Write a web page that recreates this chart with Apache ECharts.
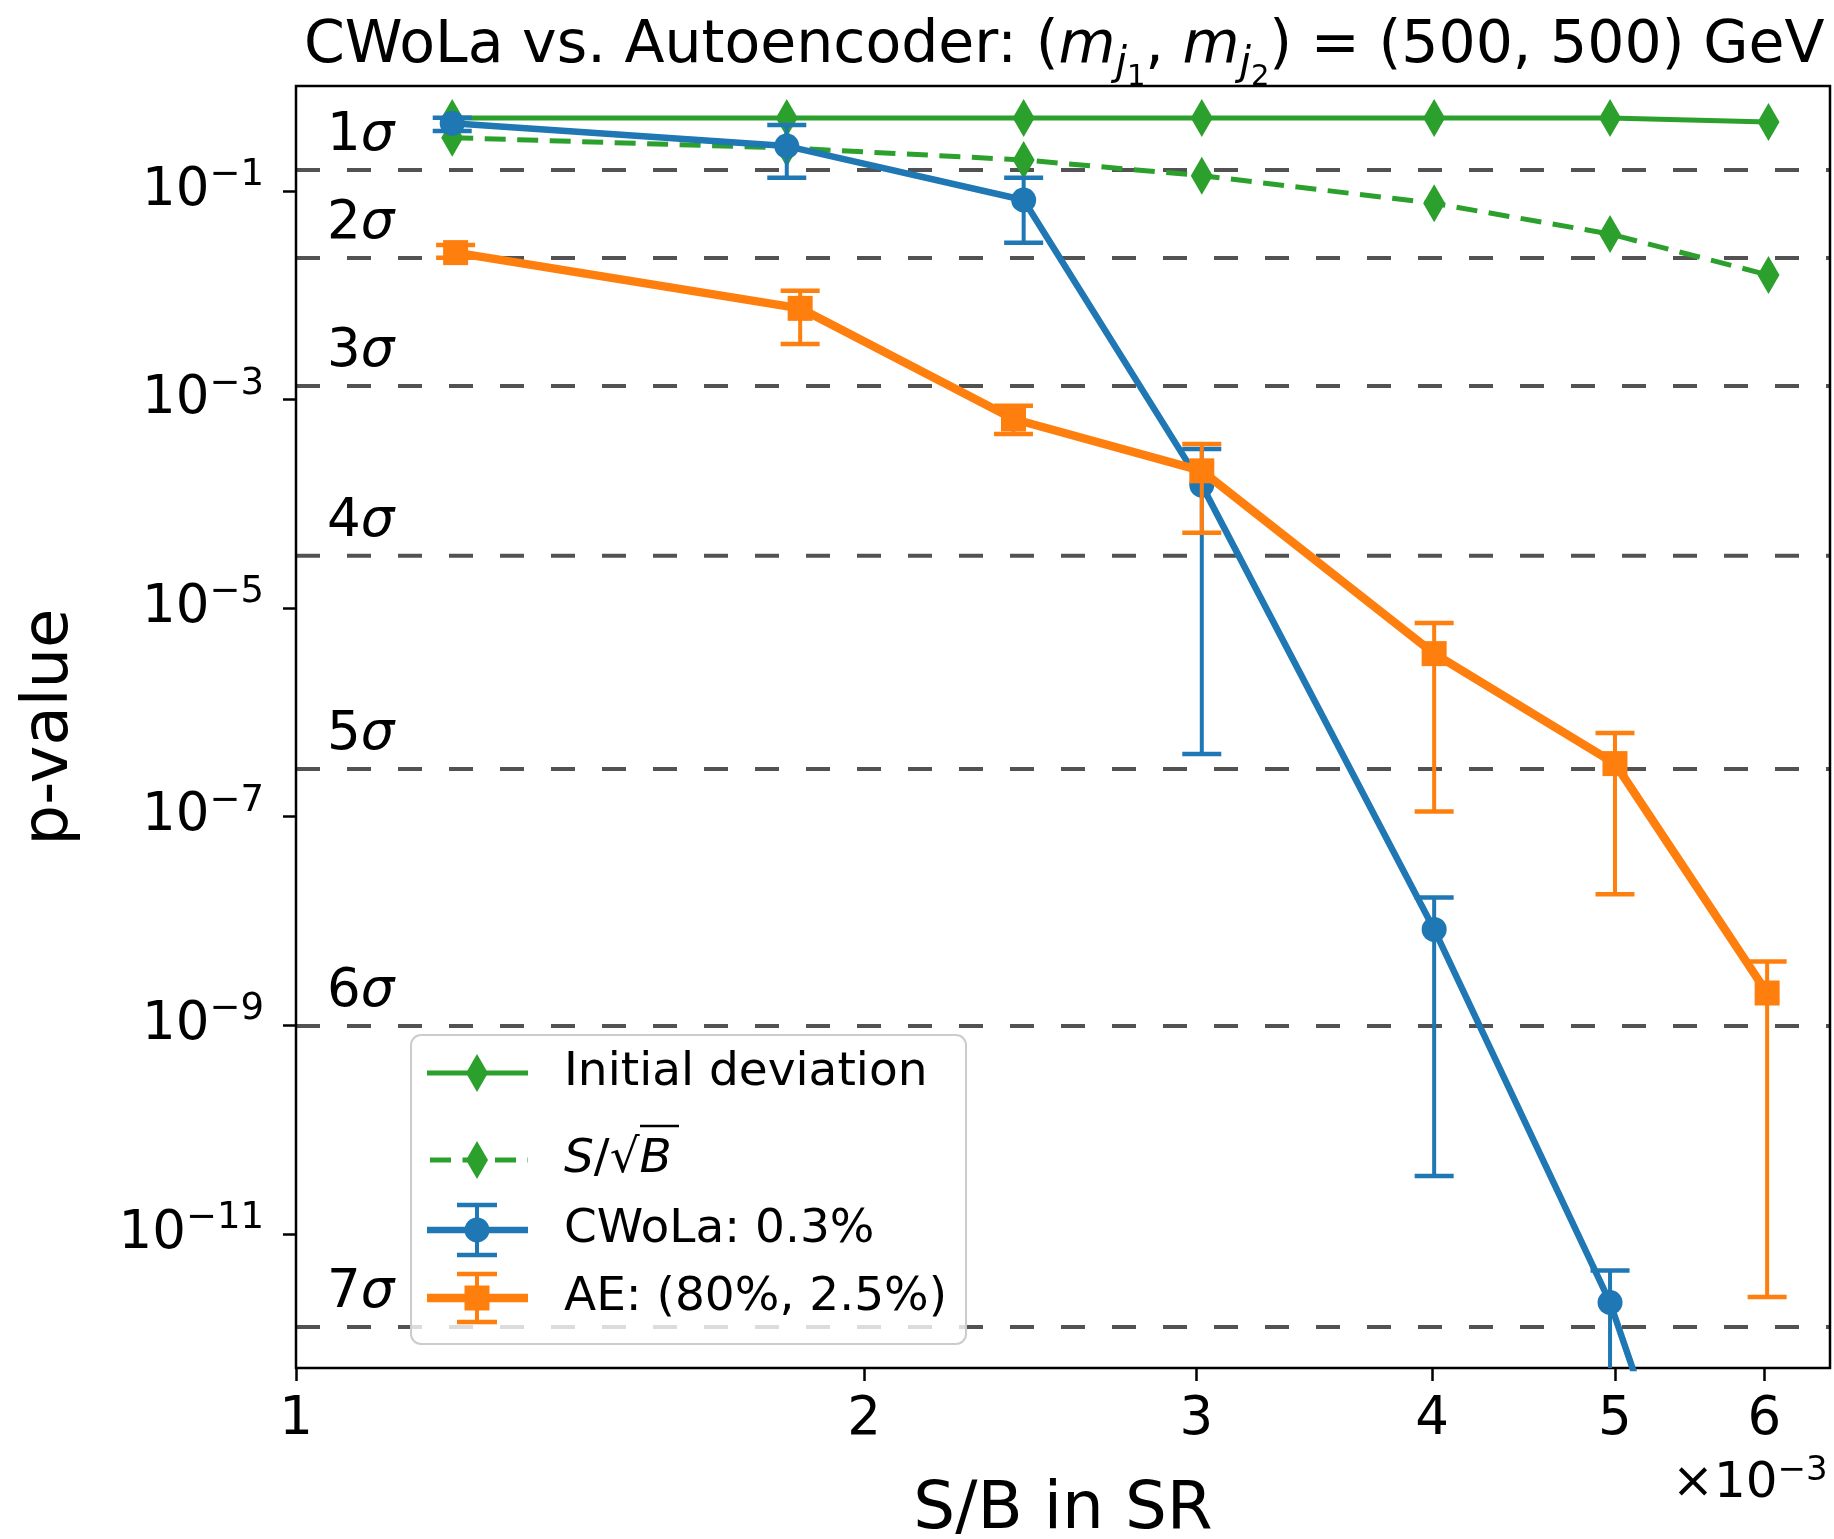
<!DOCTYPE html>
<html>
<head>
<meta charset="utf-8">
<title>CWoLa vs. Autoencoder</title>
<script src="https://cdn.jsdelivr.net/npm/echarts@6/dist/echarts.min.js"></script>
<style>
html, body { margin: 0; padding: 0; background: #ffffff; }
#chart { width: 1834px; height: 1539px; }
</style>
</head>
<body>
<div id="chart"></div>
<script>
// S/B in the signal region, in units of 1e-3
const sbMain = [1.21, 1.82, 2.43, 3.02, 4.01, 4.97, 6.03];   // initial deviation, S/sqrt(B), CWoLa
const sbAE   = [1.215, 1.85, 2.40, 3.02, 4.01, 5.00, 6.02];  // autoencoder

// p-values
const initialDeviation = [0.50, 0.50, 0.50, 0.50, 0.50, 0.50, 0.458];
const sOverSqrtB       = [0.324, 0.258, 0.198, 0.140, 0.076, 0.0386, 0.0156];

const cwolaP    = [0.445, 0.269, 0.0818, 1.51e-4, 8.3e-9, 2.2e-12, 8e-17];
const cwolaHigh = [0.503, 0.428, 0.134, 3.35e-4, 1.68e-8, 4.46e-12, 1e-15];
const cwolaLow  = [0.375, 0.134, 0.0319, 3.99e-7, 3.6e-11, 1e-14, 1e-18];

const aeP    = [0.0256, 7.48e-3, 6.5e-4, 2.07e-4, 3.66e-6, 3.23e-7, 2.04e-9];
const aeHigh = [0.0303, 0.01104, 8.73e-4, 3.74e-4, 7.18e-6, 6.34e-7, 4.1e-9];
const aeLow  = [0.0229, 3.40e-3, 4.67e-4, 5.27e-5, 1.12e-7, 1.80e-8, 2.48e-12];

// one-sided tail probabilities of the n-sigma reference levels
const sigmaLabels = ['1', '2', '3', '4', '5', '6', '7'];
const sigmaP = [1.587e-1, 2.275e-2, 1.350e-3, 3.167e-5, 2.867e-7, 9.866e-10, 1.280e-12];

// axis ticks and ranges
const xTicks = [1, 2, 3, 4, 5, 6];
const yTicks = [1e-1, 1e-3, 1e-5, 1e-7, 1e-9, 1e-11];
const xRange = [1, 6.5];
const yRange = [5.18e-13, 1.013];

const FONT = "'DejaVu Sans', sans-serif";
const GREEN = '#2ca02c', BLUE = '#1f77b4', ORANGE = '#ff7f0e';

function errorBars(name, xs, lows, highs, color, z) {
  return {
    type: 'custom', name: name, z: z, clip: true, silent: true,
    data: xs.map((x, i) => [x, lows[i], highs[i]]),
    encode: { x: 0, y: [1, 2] },
    renderItem: function (params, api) {
      const x = api.value(0);
      const lo = api.coord([x, api.value(1)]);
      const hi = api.coord([x, api.value(2)]);
      const half = 19.5;
      return {
        type: 'group',
        children: [
          { type: 'line', shape: { x1: lo[0], y1: lo[1], x2: hi[0], y2: hi[1] }, style: { stroke: color, lineWidth: 4 } },
          { type: 'line', shape: { x1: lo[0] - half, y1: lo[1], x2: lo[0] + half, y2: lo[1] }, style: { stroke: color, lineWidth: 4.5 } },
          { type: 'line', shape: { x1: hi[0] - half, y1: hi[1], x2: hi[0] + half, y2: hi[1] }, style: { stroke: color, lineWidth: 4.5 } }
        ]
      };
    }
  };
}

const diamond = 'path://M5,0 L10,10 L5,20 L0,10 Z';

const sigmaRich = {
  n: { fontFamily: FONT, fontSize: 53, color: '#000' },
  g: { fontFamily: FONT, fontSize: 53, fontStyle: 'italic', color: '#000' }
};

// legend drawn as a boxed group in the lower left of the plot
const LX = 477, TX = 564;
const legendRows = [1073, 1160, 1230, 1298];
const legendFont = 47;
const legendElems = [
  { type: 'rect', shape: { x: 411, y: 1035, width: 555, height: 309, r: 10 },
    style: { fill: 'rgba(255,255,255,0.8)', stroke: '#cccccc', lineWidth: 2 } },
  // Initial deviation
  { type: 'line', shape: { x1: 427, y1: legendRows[0], x2: 528, y2: legendRows[0] }, style: { stroke: GREEN, lineWidth: 5 } },
  { type: 'polygon', shape: { points: [[LX, legendRows[0] - 19], [LX + 11, legendRows[0]], [LX, legendRows[0] + 19], [LX - 11, legendRows[0]]] }, style: { fill: GREEN } },
  // S/sqrt(B)
  { type: 'line', shape: { x1: 430, y1: legendRows[1], x2: 528, y2: legendRows[1] }, style: { stroke: GREEN, lineWidth: 5, lineDash: [21, 11.5] } },
  { type: 'polygon', shape: { points: [[LX, legendRows[1] - 19], [LX + 11, legendRows[1]], [LX, legendRows[1] + 19], [LX - 11, legendRows[1]]] }, style: { fill: GREEN } },
  // CWoLa
  { type: 'line', shape: { x1: 427, y1: legendRows[2], x2: 528, y2: legendRows[2] }, style: { stroke: BLUE, lineWidth: 6.5 } },
  { type: 'line', shape: { x1: LX, y1: legendRows[2] - 25, x2: LX, y2: legendRows[2] + 25 }, style: { stroke: BLUE, lineWidth: 4 } },
  { type: 'line', shape: { x1: LX - 20, y1: legendRows[2] - 25, x2: LX + 20, y2: legendRows[2] - 25 }, style: { stroke: BLUE, lineWidth: 4.5 } },
  { type: 'line', shape: { x1: LX - 20, y1: legendRows[2] + 25, x2: LX + 20, y2: legendRows[2] + 25 }, style: { stroke: BLUE, lineWidth: 4.5 } },
  { type: 'circle', shape: { cx: LX, cy: legendRows[2], r: 12.5 }, style: { fill: BLUE } },
  // AE
  { type: 'line', shape: { x1: 427, y1: legendRows[3], x2: 528, y2: legendRows[3] }, style: { stroke: ORANGE, lineWidth: 8.5 } },
  { type: 'line', shape: { x1: LX, y1: legendRows[3] - 24, x2: LX, y2: legendRows[3] + 24 }, style: { stroke: ORANGE, lineWidth: 4 } },
  { type: 'line', shape: { x1: LX - 20, y1: legendRows[3] - 24, x2: LX + 20, y2: legendRows[3] - 24 }, style: { stroke: ORANGE, lineWidth: 4.5 } },
  { type: 'line', shape: { x1: LX - 20, y1: legendRows[3] + 24, x2: LX + 20, y2: legendRows[3] + 24 }, style: { stroke: ORANGE, lineWidth: 4.5 } },
  { type: 'rect', shape: { x: LX - 12.5, y: legendRows[3] - 12.5, width: 25, height: 25 }, style: { fill: ORANGE } },
  // labels
  { type: 'text', x: TX, y: legendRows[0], style: { text: 'Initial deviation', font: legendFont + 'px ' + FONT, fill: '#000', verticalAlign: 'middle' } },
  { type: 'text', x: TX, y: legendRows[1], style: {
      text: '{i|S}{n|/}{n|√}{i|B}', verticalAlign: 'middle',
      rich: { i: { fontFamily: FONT, fontSize: legendFont, fontStyle: 'italic', color: '#000' },
              n: { fontFamily: FONT, fontSize: legendFont, color: '#000' } } } },
  { type: 'line', shape: { x1: 640, y1: 1126, x2: 679, y2: 1126 }, style: { stroke: '#000', lineWidth: 2.5 } },
  { type: 'text', x: TX, y: legendRows[2], style: { text: 'CWoLa: 0.3%', font: legendFont + 'px ' + FONT, fill: '#000', verticalAlign: 'middle' } },
  { type: 'text', x: TX, y: legendRows[3], style: { text: 'AE: (80%, 2.5%)', font: legendFont + 'px ' + FONT, fill: '#000', verticalAlign: 'middle' } }
].map(e => Object.assign({ z: 100, silent: true }, e));

// offset text of the x axis
legendElems.push({
  type: 'text', x: 1672, y: 1454, z: 100, silent: true,
  style: {
    text: '{n|×10}{s|−3}', verticalAlign: 'top',
    rich: {
      n: { fontFamily: FONT, fontSize: 50, height: 60, verticalAlign: 'top', color: '#000' },
      s: { fontFamily: FONT, fontSize: 34, height: 35, verticalAlign: 'top', color: '#000' }
    }
  }
});

const tRich = (size, h, italic) => ({
  fontFamily: FONT, fontSize: size, height: h, lineHeight: h, verticalAlign: 'top',
  fontWeight: 'normal', fontStyle: italic ? 'italic' : 'normal', color: '#000'
});

const option = {
  animation: false,
  backgroundColor: '#ffffff',
  title: {
    text: '{n|CWoLa vs. Autoencoder: (}{i|m}{j|j}{d|1}{n|, }{i|m}{j|j}{d|2}{n|) = (500, 500) GeV}',
    left: 304, top: 12, padding: 0,
    textStyle: {
      fontWeight: 'normal', fontFamily: FONT,
      rich: {
        n: tRich(58.5, 70, false),
        i: tRich(58.5, 70, true),
        j: tRich(41, 104, true),
        d: tRich(29, 131, false)
      }
    }
  },
  grid: {
    left: 296, right: 4, top: 86, bottom: 171,
    outerBoundsMode: 'none', containLabel: false,
    show: true, borderColor: '#000', borderWidth: 2.5, backgroundColor: 'transparent'
  },
  xAxis: {
    type: 'log', logBase: 10, min: xRange[0], max: xRange[1],
    name: 'S/B in SR', nameLocation: 'middle', nameGap: 110,
    nameTextStyle: { fontFamily: FONT, fontSize: 66, color: '#000', lineHeight: 66 },
    axisLine: { show: false },
    splitLine: { show: false }, minorTick: { show: false },
    axisTick: { show: true, customValues: xTicks, length: 13, inside: false, lineStyle: { color: '#000', width: 2.5 } },
    axisLabel: {
      customValues: xTicks, margin: 26, fontFamily: FONT, fontSize: 53, lineHeight: 53, color: '#000',
      formatter: v => String(Math.round(v))
    }
  },
  yAxis: {
    type: 'log', logBase: 10, min: yRange[0], max: yRange[1],
    name: 'p-value', nameLocation: 'middle', nameGap: 214, nameRotate: 90,
    nameTextStyle: { fontFamily: FONT, fontSize: 64, color: '#000', lineHeight: 64 },
    axisLine: { show: false },
    splitLine: { show: false }, minorTick: { show: false },
    axisTick: { show: true, customValues: yTicks, length: 13, inside: false, lineStyle: { color: '#000', width: 2.5 } },
    axisLabel: {
      customValues: yTicks, margin: 32, color: '#000',
      formatter: v => '{b|10}{s|−' + Math.round(-Math.log10(v)) + '}',
      rich: {
        b: { fontFamily: FONT, fontSize: 53, height: 64, lineHeight: 64, verticalAlign: 'top', color: '#000' },
        s: { fontFamily: FONT, fontSize: 37, height: 33, verticalAlign: 'top', color: '#000' }
      }
    }
  },
  graphic: { elements: legendElems },
  series: [
    {
      // n-sigma reference levels
      type: 'custom', z: 1, silent: true, clip: false,
      data: sigmaP.map((p, i) => [xRange[0], p, i]),
      encode: { x: 0, y: 1 },
      renderItem: function (params, api) {
        const cs = params.coordSys;
        const y = api.coord([api.value(0), api.value(1)])[1];
        const i = api.value(2);
        return {
          type: 'group',
          children: [
            { type: 'line', shape: { x1: cs.x, y1: y, x2: cs.x + cs.width, y2: y },
              style: { stroke: 'rgba(0,0,0,0.68)', lineWidth: 4, lineDash: [24, 27] } },
            { type: 'text', x: 327, y: y - 34,
              style: { text: '{n|' + sigmaLabels[i] + '}{g|σ}', align: 'left', verticalAlign: 'middle', rich: sigmaRich } }
          ]
        };
      }
    },
    {
      name: 'Initial deviation', type: 'line', z: 2,
      data: sbMain.map((x, i) => [x, initialDeviation[i]]),
      symbol: diamond, symbolSize: [22, 38], showSymbol: true,
      lineStyle: { color: GREEN, width: 5 }, itemStyle: { color: GREEN }
    },
    {
      name: 'S/√B', type: 'line', z: 3,
      data: sbMain.map((x, i) => [x, sOverSqrtB[i]]),
      symbol: diamond, symbolSize: [22, 38], showSymbol: true,
      lineStyle: { color: GREEN, width: 5, type: [21, 11.5] }, itemStyle: { color: GREEN }
    },
    errorBars('CWoLa error', sbMain, cwolaLow, cwolaHigh, BLUE, 4),
    {
      name: 'CWoLa: 0.3%', type: 'line', z: 5,
      data: sbMain.map((x, i) => [x, cwolaP[i]]),
      symbol: 'circle', symbolSize: 25, showSymbol: true,
      lineStyle: { color: BLUE, width: 6.5 }, itemStyle: { color: BLUE }
    },
    errorBars('AE error', sbAE, aeLow, aeHigh, ORANGE, 6),
    {
      name: 'AE: (80%, 2.5%)', type: 'line', z: 7,
      data: sbAE.map((x, i) => [x, aeP[i]]),
      symbol: 'rect', symbolSize: 25, showSymbol: true,
      lineStyle: { color: ORANGE, width: 8.5 }, itemStyle: { color: ORANGE }
    }
  ]
};

const chart = echarts.init(document.getElementById('chart'));
chart.setOption(option);
</script>
</body>
</html>
